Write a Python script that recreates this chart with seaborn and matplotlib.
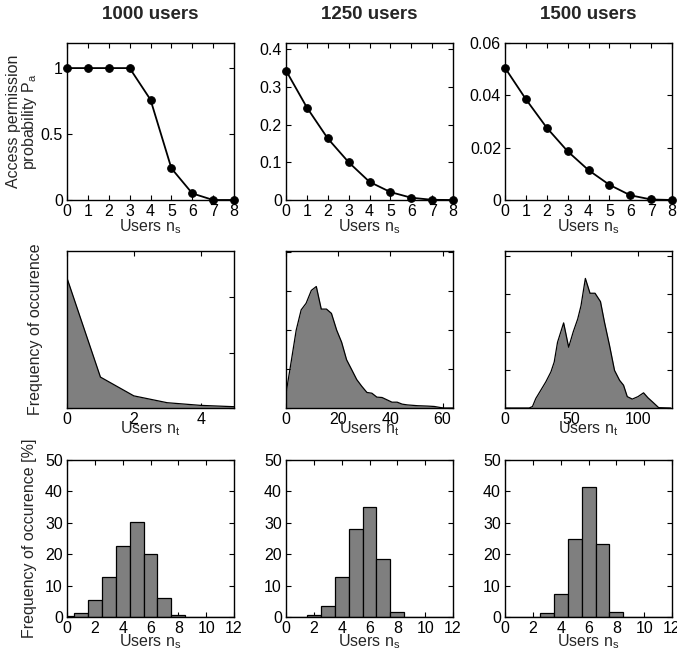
import numpy as np
import matplotlib
matplotlib.use("Agg")
import matplotlib.pyplot as plt
from matplotlib.ticker import FormatStrFormatter
import seaborn as sns

# titles of the three columns
titles = ["1000 users", "1250 users", "1500 users"]

# row 1: access permission probability vs users n_s
ns = [0, 1, 2, 3, 4, 5, 6, 7, 8]
pa_1000 = [1.0, 1.0, 1.0, 1.0, 0.76, 0.24, 0.05, 0.0, 0.0]
pa_1250 = [0.343, 0.245, 0.163, 0.100, 0.048, 0.021, 0.006, 0.0005, 0.0]
pa_1500 = [0.0505, 0.0385, 0.0276, 0.0186, 0.0114, 0.0058, 0.0018, 0.0002, 0.0]

# row 2: frequency of occurence of n_t (arbitrary units)
nt_1000 = [0, 1, 2, 3, 4, 5]
ft_1000 = [2.35, 0.56, 0.22, 0.096, 0.048, 0.024]
nt_1250 = [0, 2, 3.9, 5.8, 7.7, 9.7, 11.6, 13.5, 15.5, 17.4, 19.4, 21.3, 23.2, 25.2,
           27.1, 29, 31, 32.9, 34.8, 36.8, 38.7, 40.6, 42.6, 44.5, 46.5, 50.3, 54.2,
           56.8, 59.4, 60.6, 64]
ft_1250 = [0.38, 1.2, 2.0, 2.52, 2.69, 3.02, 3.12, 2.54, 2.54, 2.43, 2.0, 1.69, 1.24, 0.98,
           0.73, 0.56, 0.40, 0.38, 0.28, 0.27, 0.21, 0.15, 0.15, 0.10, 0.08, 0.06, 0.05,
           0.04, 0.01, 0.0, 0.0]
nt_1500 = [0, 18.2, 20.7, 23.2, 27, 30.8, 34.6, 37.1, 39.6, 44.2, 48, 51.5, 54.8, 57.3,
           60.6, 64.1, 67.9, 72, 75, 78.8, 82.6, 86.4, 89.4, 92.2, 96, 100.3, 104.5,
           107.8, 111.6, 115.9, 125]
ft_1500 = [0, 0, 0.04, 0.25, 0.47, 0.69, 0.95, 1.21, 1.73, 2.24, 1.6, 2.01, 2.34, 2.69,
           3.41, 3.02, 3.02, 2.80, 2.26, 1.65, 0.99, 0.73, 0.60, 0.30, 0.235, 0.30, 0.40,
           0.27, 0.15, 0.01, 0]

# row 3: histogram of n_s [%]
hist_ns = [0, 1, 2, 3, 4, 5, 6, 7, 8, 9, 10, 11, 12]
hist_1000 = [0.2, 1.4, 5.5, 12.7, 22.7, 30.1, 20.1, 6.0, 0.6, 0.1, 0, 0, 0]
hist_1250 = [0.05, 0.1, 0.7, 3.6, 12.7, 28.0, 35.0, 18.4, 1.5, 0.1, 0, 0, 0]
hist_1500 = [0, 0, 0.1, 1.3, 7.3, 25.0, 41.3, 23.2, 1.5, 0.1, 0, 0, 0]

sns.set_style("ticks")
plt.rcParams["font.family"] = ["Liberation Sans", "DejaVu Sans"]
plt.rcParams["mathtext.fontset"] = "custom"
plt.rcParams["mathtext.rm"] = "Liberation Sans"
plt.rcParams["font.size"] = 11.5
plt.rcParams["axes.linewidth"] = 1.0
plt.rcParams["axes.edgecolor"] = "black"
plt.rcParams["xtick.color"] = "black"
plt.rcParams["ytick.color"] = "black"

GRAY = "#7f7f7f"

fig = plt.figure(figsize=(6.77, 6.64), dpi=100)
lefts = [0.099, 0.4225, 0.746]
bottoms = [0.6988, 0.3855, 0.0708]
w, h = 0.2467, 0.2364


def style_axes(ax):
    ax.tick_params(direction="in", length=3.5, width=0.8, top=True, right=True,
                   labelsize=11.5, pad=3)
    for s in ax.spines.values():
        s.set_visible(True)
        s.set_linewidth(1.0)
        s.set_color("black")


# row 1
pa_list = [pa_1000, pa_1250, pa_1500]
ylims1 = [1.19, 0.416, 0.06]
yticks1 = [[0, 0.5, 1], [0, 0.1, 0.2, 0.3, 0.4], [0, 0.02, 0.04, 0.06]]
for i in range(3):
    ax = fig.add_axes([lefts[i], bottoms[0], w, h])
    sns.lineplot(x=ns, y=pa_list[i], ax=ax, color="black", linewidth=1.3,
                 marker="o", markersize=5.5, markeredgecolor="black")
    ax.set_xlim(0, 8)
    ax.set_ylim(0, ylims1[i])
    ax.set_xticks(range(0, 9))
    ax.set_yticks(yticks1[i])
    ax.yaxis.set_major_formatter(FormatStrFormatter("%g"))
    for ln in ax.get_lines():
        ln.set_clip_on(False)
    style_axes(ax)
    ax.set_xlabel(r"Users $\mathregular{n_s}$", labelpad=-1)
    ax.set_title(titles[i], fontweight="bold", fontsize=13.5, pad=17)
    if i == 0:
        ax.set_ylabel("Access permission\nprobability $\\mathregular{P_a}$",
                      labelpad=1, linespacing=0.95)
    else:
        ax.set_ylabel("")

# row 2
nt_list = [nt_1000, nt_1250, nt_1500]
ft_list = [ft_1000, ft_1250, ft_1500]
xlims2 = [5, 64, 126]
ylims2 = [2.84, 4.03, 4.13]
xticks2 = [[0, 2, 4], [0, 20, 40, 60], [0, 50, 100]]
yticks2 = [[0, 1, 2], [0, 1, 2, 3, 4], [0, 1, 2, 3, 4]]
for i in range(3):
    ax = fig.add_axes([lefts[i], bottoms[1], w, h])
    ax.fill_between(nt_list[i], ft_list[i], color=GRAY, linewidth=0)
    sns.lineplot(x=nt_list[i], y=ft_list[i], ax=ax, color="black", linewidth=0.9)
    ax.set_xlim(0, xlims2[i])
    ax.set_ylim(0, ylims2[i])
    ax.set_xticks(xticks2[i])
    ax.set_yticks(yticks2[i])
    ax.set_yticklabels([])
    style_axes(ax)
    ax.set_xlabel(r"Users $\mathregular{n_t}$", labelpad=-6)
    if i == 0:
        ax.set_ylabel("Frequency of occurence", labelpad=14)
    else:
        ax.set_ylabel("")

# row 3
hist_list = [hist_1000, hist_1250, hist_1500]
for i in range(3):
    ax = fig.add_axes([lefts[i], bottoms[2], w, h])
    sns.barplot(x=hist_ns, y=hist_list[i], ax=ax, native_scale=True, width=1,
                color=GRAY, saturation=1, edgecolor="black", linewidth=0.9,
                errorbar=None)
    ax.set_xlim(0, 12)
    ax.set_ylim(0, 50)
    ax.set_xticks(range(0, 13, 2))
    ax.set_xticklabels([str(t) for t in range(0, 13, 2)])
    ax.set_yticks(range(0, 51, 10))
    style_axes(ax)
    ax.set_xlabel(r"Users $\mathregular{n_s}$", labelpad=-3)
    if i == 0:
        ax.set_ylabel("Frequency of occurence [%]", labelpad=6)
    else:
        ax.set_ylabel("")

fig.savefig("out.png", dpi=100)
